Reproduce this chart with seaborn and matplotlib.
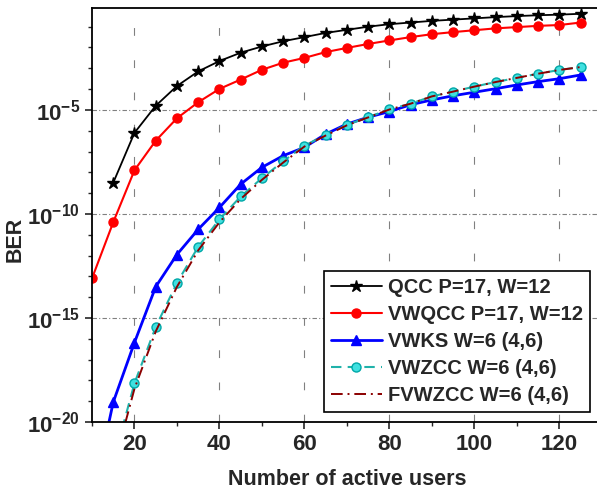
# BER vs number of active users for several code families
import matplotlib
matplotlib.use("Agg")
import matplotlib.pyplot as plt
import numpy as np
import pandas as pd
import seaborn as sns
from matplotlib.ticker import FixedLocator, NullFormatter

sns.set_style("white")
plt.rcParams["font.family"] = ["Liberation Sans", "DejaVu Sans"]
plt.rcParams["font.weight"] = "bold"
plt.rcParams["mathtext.fontset"] = "custom"
plt.rcParams["mathtext.bf"] = "Liberation Sans:bold"
plt.rcParams["mathtext.rm"] = "Liberation Sans:bold"

# values (log10 of BER)
users_qcc = list(range(15, 130, 5))
ber_qcc = [-8.5, -6.1, -4.8, -3.85, -3.15, -2.65, -2.25, -1.95, -1.7, -1.5, -1.3, -1.15,
           -1.0, -0.88, -0.8, -0.72, -0.66, -0.6, -0.54, -0.49, -0.45, -0.42, -0.38]

users_vwqcc = list(range(10, 130, 5))
ber_vwqcc = [-13.1, -10.4, -7.9, -6.48, -5.4, -4.63, -3.99, -3.54, -3.07, -2.73, -2.5, -2.22,
             -2.02, -1.83, -1.66, -1.5, -1.36, -1.26, -1.17, -1.08, -1.02, -0.96, -0.92, -0.8]

users_vwks = list(range(10, 130, 5))
ber_vwks = [-23.8, -19.05, -16.18, -13.5, -11.95, -10.74, -9.69, -8.57, -7.76, -7.2, -6.8, -6.16,
            -5.68, -5.35, -5.08, -4.75, -4.52, -4.32, -4.15, -3.98, -3.8, -3.64, -3.5, -3.32]

users_vwzcc = list(range(15, 130, 5))
ber_vwzcc = [-21.9, -18.14, -15.43, -13.31, -11.58, -10.26, -9.16, -8.28, -7.47, -6.72, -6.2,
             -5.72, -5.35, -4.97, -4.7, -4.35, -4.12, -3.88, -3.66, -3.46, -3.26, -3.08, -2.94]

users_fvwzcc = list(range(15, 130, 5))
ber_fvwzcc = [-22.2, -18.4, -15.65, -13.5, -11.75, -10.4, -9.28, -8.36, -7.53, -6.76, -6.23,
              -5.74, -5.36, -4.98, -4.7, -4.35, -4.12, -3.88, -3.66, -3.46, -3.26, -3.08, -2.94]

fig = plt.figure(figsize=(5.97, 4.92), dpi=100)
ax = fig.add_axes([0.1541, 0.1423, 0.854, 0.8415])

series = [
    ("QCC P=17, W=12", users_qcc, ber_qcc,
     dict(color="black", lw=1.3, marker="*", ms=9, mfc="black", mec="black", ls="-")),
    ("VWQCC P=17, W=12", users_vwqcc, ber_vwqcc,
     dict(color="#ff0000", lw=1.5, marker="o", ms=6.5, mfc="#ff0000", mec="#ff0000", ls="-")),
    ("VWKS W=6 (4,6)", users_vwks, ber_vwks,
     dict(color="#0000ff", lw=2.0, marker="^", ms=7.5, mfc="#0000ff", mec="#0000ff", ls="-")),
    ("VWZCC W=6 (4,6)", users_vwzcc, ber_vwzcc,
     dict(color="#20b2aa", lw=1.5, marker="o", ms=6.5, mfc="#40e0e0", mec="#00a8a8", ls=(0, (5, 3)))),
    ("FVWZCC W=6 (4,6)", users_fvwzcc, ber_fvwzcc,
     dict(color="#8b0000", lw=1.4, marker=None, ls=(0, (6, 2.5, 1, 2.5)))),
]

for label, xs, ys, style in series:
    df = pd.DataFrame({"users": xs, "ber": 10.0 ** np.array(ys)})
    sns.lineplot(data=df, x="users", y="ber", ax=ax, label=label,
                 markeredgewidth=1, **style)

ax.set_yscale("log")
ax.set_xlim(10, 130)
ax.set_ylim(1e-20, 10 ** -0.1)

major_y = [1e-20, 1e-15, 1e-10, 1e-5]
ax.yaxis.set_major_locator(FixedLocator(major_y))
ax.yaxis.set_minor_locator(FixedLocator([10.0 ** k for k in range(-20, 0)]))
ax.yaxis.set_minor_formatter(NullFormatter())
ax.set_yticklabels([r"$\mathbf{10^{-20}}$", r"$\mathbf{10^{-15}}$",
                    r"$\mathbf{10^{-10}}$", r"$\mathbf{10^{-5}}$"])
ax.set_xticks(range(20, 130, 20))
ax.set_xticks(range(10, 131, 20), minor=True)

ax.tick_params(axis="x", which="major", labelsize=16)
ax.tick_params(axis="y", which="major", labelsize=16)
ax.tick_params(axis="both", which="major", direction="out", length=5, width=1.2,
               bottom=True, left=True)
ax.tick_params(axis="both", which="minor", direction="out", length=3, width=1.0,
               bottom=True, left=True)
for lab in ax.get_xticklabels():
    lab.set_fontweight("bold")

for x in range(20, 130, 20):
    ax.axvline(x, color="gray", lw=0.8, ls=(0, (7, 22)), zorder=0)
for y in major_y[1:]:
    ax.axhline(y, color="gray", lw=0.8, ls=(0, (4, 2, 1, 2)), zorder=0)

for side in ["top", "bottom", "left", "right"]:
    ax.spines[side].set_color("black")
    ax.spines[side].set_linewidth(1.3)

ax.set_xlabel("Number of active users", fontsize=15.5, fontweight="bold", labelpad=10)
ax.set_ylabel("BER", fontsize=15.5, fontweight="bold")
ax.yaxis.set_label_coords(-0.13, 0.44)

leg = ax.legend(loc="lower right", bbox_to_anchor=(0.976, 0.024), borderaxespad=0,
                fontsize=14.5, frameon=True, fancybox=False, edgecolor="black",
                framealpha=1, handlelength=2.5, labelspacing=0.4, borderpad=0.35,
                handletextpad=0.3)
leg.get_frame().set_linewidth(1.2)
for t in leg.get_texts():
    t.set_fontweight("bold")

fig.savefig("out.png", dpi=100)
